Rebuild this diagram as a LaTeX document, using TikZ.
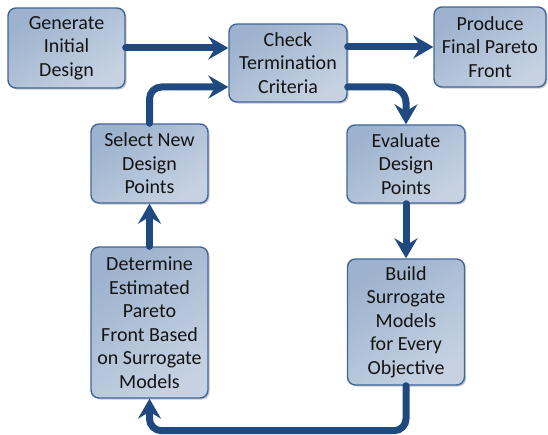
\documentclass[tikz,border=0pt]{standalone}
\usepackage{fontspec}
\setmainfont{Carlito}
\usetikzlibrary{arrows.meta,shadows,calc}
\definecolor{boxdark}{HTML}{9DB2CE}
\definecolor{boxlight}{HTML}{C6D2E2}
\definecolor{boxedge}{HTML}{41669A}
\definecolor{flow}{HTML}{204A7F}
\definecolor{ink}{HTML}{141414}
\begin{document}
\begin{tikzpicture}[x=1pt,y=-1pt,
  stepbox/.style={draw=boxedge, line width=1.4pt, rounded corners=8pt,
    top color=boxdark, bottom color=boxlight, shading angle=35,
    drop shadow={shadow xshift=1.6pt, shadow yshift=-1.6pt, opacity=0.3, fill=black!70},
    align=center, text=ink, inner sep=2pt,
    font=\fontsize{20}{23.5}\selectfont},
  flowarrow/.style={draw=flow, line width=7pt, line cap=round,
    -{Stealth[length=20pt,width=23pt,inset=7pt,line cap=butt,line join=miter]}},
  bend/.style={rounded corners=#1}]
\useasboundingbox (0,0) rectangle (548,435);

% process steps
\node[stepbox, minimum width=117pt, minimum height=80pt] (gen)   at (66.5,48)   {Generate\\Initial\\Design};
\node[stepbox, minimum width=118pt, minimum height=78pt] (chk)   at (288,63)    {Check\\Termination\\Criteria};
\node[stepbox, minimum width=112pt, minimum height=80pt] (prod)  at (490,47)    {Produce\\Final Pareto\\Front};
\node[stepbox, minimum width=118pt, minimum height=78pt] (eval)  at (406,164)   {Evaluate\\Design\\Points};
\node[stepbox, minimum width=117pt, minimum height=126pt] (build) at (406,322)  {Build\\Surrogate\\Models\\for Every\\Objective};
\node[stepbox, minimum width=117pt, minimum height=151pt] (det)   at (149.5,322.5) {Determine\\Estimated\\Pareto\\Front Based\\on Surrogate\\Models};
\node[stepbox, minimum width=117pt, minimum height=79pt] (sel)   at (149.5,163.5) {Select New\\Design\\Points};

% connectors
\draw[flowarrow] (gen.east) -- (gen.east -| chk.west);
\draw[flowarrow] (chk.east |- prod.west) -- (prod.west);
\draw[flowarrow, bend=16pt] ([yshift=-24pt]chk.east) -| (eval.north);
\draw[flowarrow] (eval.south) -- (build.south |- build.north);
\draw[flowarrow, bend=12pt] (build.south) -- ([yshift=-45pt]build.south) -| (det.south);
\draw[flowarrow] (det.north) -- (sel.south);
\draw[flowarrow, bend=12pt] (sel.north) |- ([yshift=-24pt]chk.west);
\end{tikzpicture}
\end{document}
